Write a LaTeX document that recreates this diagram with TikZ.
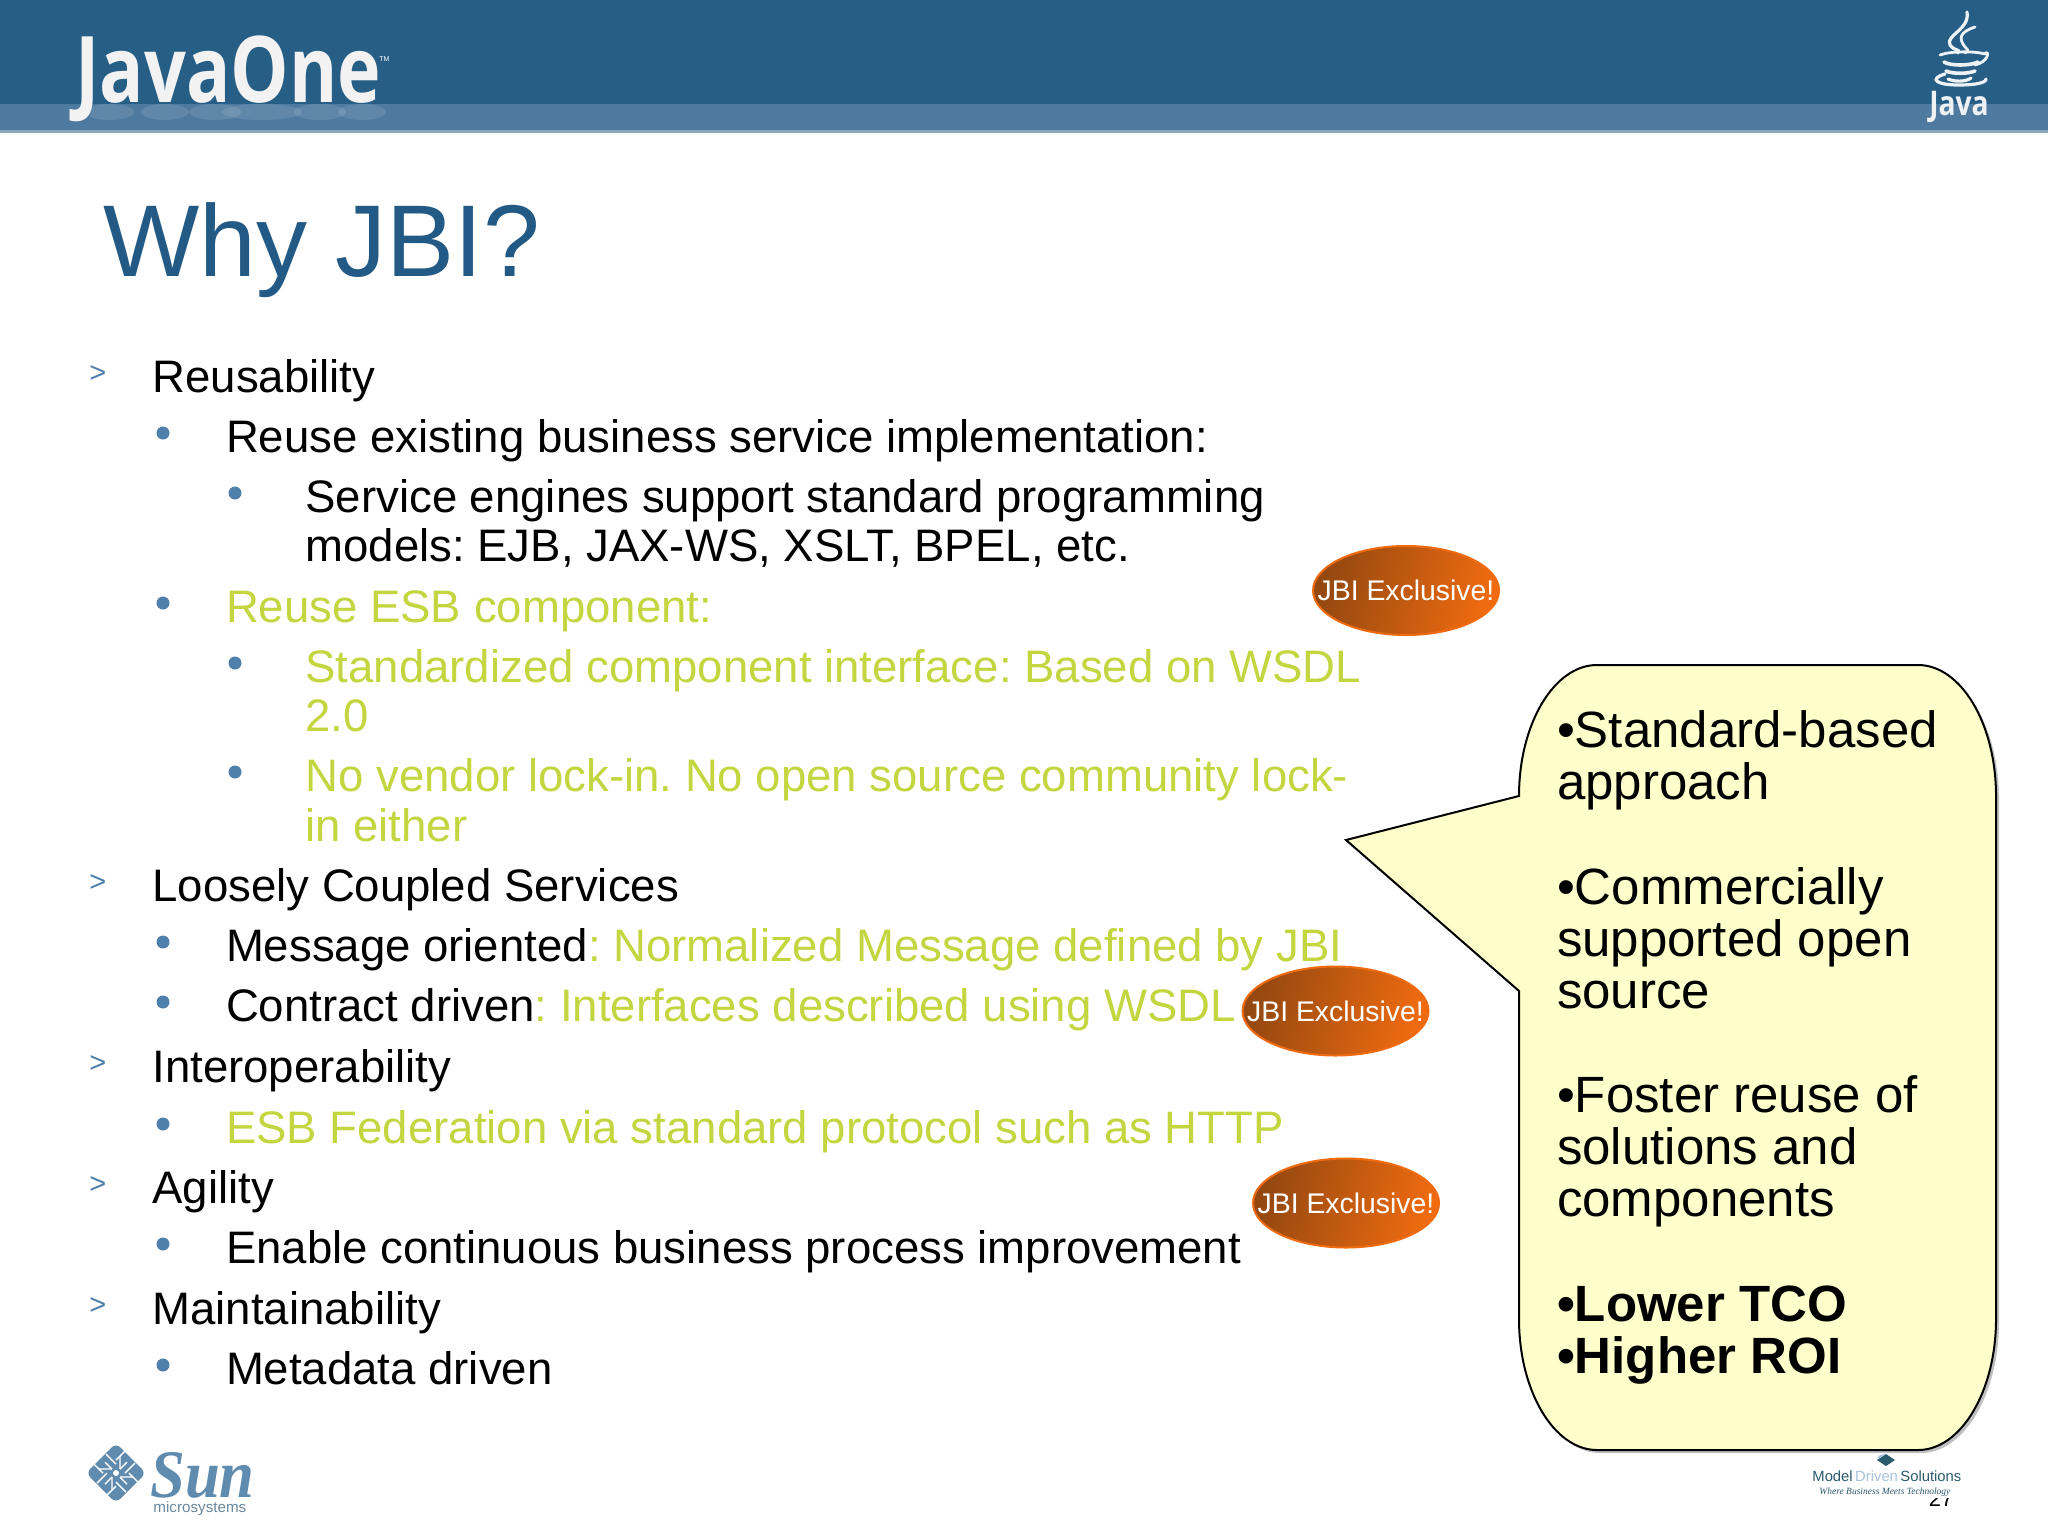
\documentclass[tikz,border=0pt]{standalone}
\usepackage{fontspec}
\setmainfont{Liberation Sans}
\newfontfamily\serifit{Liberation Serif}
\newfontfamily\logofont{Open Sans}
\definecolor{hdark}{HTML}{265E86}
\definecolor{hlight}{HTML}{4E7A9F}
\definecolor{hline}{HTML}{8FA9C0}
\definecolor{titleblue}{HTML}{235A85}
\definecolor{limec}{HTML}{C3D63F}
\definecolor{markc}{HTML}{4F7FAB}
\definecolor{calloutfill}{HTML}{FFFFCC}
\definecolor{sunblue}{HTML}{5F8BAE}
\definecolor{mdteal}{HTML}{2B5A6C}
\definecolor{mdlight}{HTML}{A9C2DC}
\definecolor{badgeL}{HTML}{944810}
\definecolor{badgeR}{HTML}{F06B10}
\usetikzlibrary{shapes.geometric}
\tikzset{
  x=0.5pt,y=-0.5pt,
  txt/.style={anchor=base west,inner sep=0pt,outer sep=0pt,font=\frenchspacing\fontsize{22.77}{27}\selectfont},
  lime text/.style={txt,text=limec},
  gt/.style={anchor=base west,inner sep=0pt,text=markc,font=\fontsize{14.5}{16}\selectfont},
  badge/.style={ellipse,draw=badgeR,line width=1pt,minimum width=93pt,minimum height=44.5pt,inner sep=0pt,
    left color=badgeL,right color=badgeR,shading angle=75,text=white,font=\fontsize{14.2}{17}\selectfont},
  call/.style={anchor=base west,inner sep=0pt,outer sep=0pt,font=\fontsize{25.5}{30}\selectfont},
  callb/.style={call,font=\fontsize{25.5}{30}\bfseries\selectfont},
  steam/.style={draw=white!92!hdark,line cap=round,fill=none},
}
\newcommand{\badgetext}{\raisebox{-0.6pt}{\makebox[0pt][c]{JBI Exclusive!}}}
\begin{document}
\begin{tikzpicture}
\useasboundingbox (0,0) rectangle (2048,1536);
\fill[white] (0,0) rectangle (2048,1536);
% header
\fill[hdark] (0,0) rectangle (2048,104);
\fill[hlight] (0,104) rectangle (2048,131);
\fill[hline] (0,130) rectangle (2048,132.5);
% logo reflection
\begin{scope}[white,opacity=.1]
 \foreach \cx/\w in {110/24,165/24,215/26,262/40,320/26,362/24}{
   \fill (\cx,112) ellipse[x radius=\w,y radius=8];
 }
\end{scope}
\node[inner sep=0pt,anchor=base west,text=white!90!gray] (javaone) at (75,103)
  {\scalebox{0.80}[1]{\logofont\fontsize{46}{50}\bfseries\selectfont JavaOne}};
\node[inner sep=0pt,anchor=base west,text=white] (jtm) at (379,62) {\fontsize{3.5}{4}\selectfont TM};
% java cup
\begin{scope}[steam]
 \draw[line width=1.6pt] (1967,12) .. controls (1970,30) and (1945,35) .. (1950,45) .. controls (1955,52) and (1960,48) .. (1958,53);
 \draw[line width=1.4pt] (1975,27) .. controls (1960,32) and (1958,38) .. (1965,47) .. controls (1970,52) and (1967,50) .. (1965,53);
 \draw[line width=1.4pt] (1940,55) .. controls (1950,51) and (1975,51) .. (1985,54);
 \draw[line width=1.4pt] (1985,53) .. controls (1990,51) and (1988,62) .. (1975,65);
 \draw[line width=1.8pt] (1944,62) .. controls (1950,66) and (1970,66) .. (1978,62);
 \draw[line width=1.8pt] (1946,71) .. controls (1952,74) and (1968,74) .. (1975,71);
 \draw[line width=1.6pt] (1948,79) .. controls (1954,82) and (1966,82) .. (1971,78);
 \draw[line width=1.6pt] (1945,74) .. controls (1928,79) and (1937,85) .. (1958,85) .. controls (1975,85) and (1986,83) .. (1986,79);
\end{scope}
\node[inner sep=0pt,anchor=base,text=white!92!hdark] (javaword) at (1959,115)
  {\scalebox{0.83}[1]{\logofont\fontsize{17}{19}\bfseries\selectfont Java}};
% title
\node[anchor=base west,inner sep=0pt,text=titleblue,font=\fontsize{51}{56}\selectfont] (title) at (103,276) {Why JBI?};
% body
\foreach \y in {392,901,1082,1203,1324}{ \node[gt] at (89,\y-10) {>}; }
\foreach \y in {452,622,961,1021,1143,1263,1384}{ \fill[markc] (163,\y-19) circle[radius=6.5]; }
\foreach \y in {512,682,791}{ \fill[markc] (235,\y-19) circle[radius=6.5]; }
\node[txt] (a1) at (152.5,392) {Reusability};
\node[txt] (a2) at (226,452) {Reuse existing business service implementation:};
\node[txt] (a3) at (305.5,512) {Service engines support standard programming};
\node[txt] (a4) at (305.5,561) {models: EJB, JAX-WS, XSLT, BPEL, etc.};
\node[lime text] (a5) at (226,622) {Reuse ESB component:};
\node[lime text] (a6) at (305.5,682) {Standardized component interface: Based on WSDL};
\node[lime text] (a7) at (305.5,731) {2.0};
\node[lime text] (a8) at (305.5,791) {No vendor lock-in. No open source community lock-};
\node[lime text] (a9) at (305.5,841) {in either};
\node[txt] (b1) at (152.5,901) {Loosely Coupled Services};
\node[txt] (b2) at (226,961) {Message oriented\textcolor{limec}{: Normalized Message defined by JBI}};
\node[txt] (b3) at (226,1021) {Contract driven\textcolor{limec}{: Interfaces described using WSDL}};
\node[txt] (c1) at (152.5,1082) {Interoperability};
\node[lime text] (c2) at (226,1143) {ESB Federation via standard protocol such as HTTP};
\node[txt] (d1) at (152.5,1203) {Agility};
\node[txt] (d2) at (226,1263) {Enable continuous business process improvement};
\node[txt] (e1) at (152.5,1324) {Maintainability};
\node[txt] (e2) at (226,1384) {Metadata driven};
% badges
\node[badge] (x1) at (1406,590.5) {\badgetext};
\node[badge] (x2) at (1335.5,1011) {\badgetext};
\node[badge] (x3) at (1346,1203) {\badgetext};
% page number behind logo
\begin{scope}
 \clip (1900,1498) rectangle (1980,1510);
 \node[anchor=base,inner sep=0pt,font=\fontsize{11}{12}\selectfont] (pg) at (1941,1506) {27};
\end{scope}
% callout
\def\callpath{(1597,665) -- (1918,665) .. controls (1961,665) and (1996,724) .. (1996,796) -- (1996,1319)
 .. controls (1996,1391) and (1961,1450) .. (1918,1450) -- (1597,1450)
 .. controls (1554,1450) and (1519,1391) .. (1519,1319) -- (1519,991) -- (1346,840) -- (1519,796)
 .. controls (1519,724) and (1554,665) .. (1597,665) -- cycle}
\begin{scope}[shift={(3,3)}]
 \fill[gray!50] \callpath;
\end{scope}
\draw[fill=calloutfill,line width=1pt,line join=miter] \callpath;
\node[call] at (1557,747.5) {•Standard-based};
\node[call] at (1557,799.5) {approach};
\node[call] at (1557,904.5) {•Commercially};
\node[call] at (1557,956.5) {supported open};
\node[call] at (1557,1008.5) {source};
\node[call] at (1557,1112.5) {•Foster reuse of};
\node[call] at (1557,1164.5) {solutions and};
\node[call] at (1557,1216.5) {components};
\node[callb] at (1557,1321) {•Lower TCO};
\node[callb] at (1557,1373) {•Higher ROI};
% sun logo
\fill[sunblue,rounded corners=3pt] (116,1443) -- (146,1473) -- (116,1503) -- (86,1473) -- cycle;
\begin{scope}[white,line width=.7pt]
 \foreach \a in {0,90,180,270}{
  \begin{scope}[rotate around={\a:(116,1473)}]
   \draw (120,1469) -- (127,1462) (125,1473) -- (135,1463) (120,1477) -- (133,1477);
   \draw (116,1460) -- (126,1450);
  \end{scope}
 }
 \fill[white] (116,1473) circle[radius=3];
\end{scope}
\node[anchor=base west,inner sep=0pt,text=sunblue] (sunw) at (150,1497)
  {\scalebox{0.92}[1]{\serifit\fontsize{34}{36}\bfseries\itshape\selectfont Sun}};
\node[anchor=base west,inner sep=0pt,text=sunblue!70!gray,font=\fontsize{7.6}{9}\selectfont] (micro) at (153,1512) {microsystems};
% model driven logo
\fill[mdteal] (1877,1460) -- (1886,1454) -- (1895,1460) -- (1886,1466) -- cycle;
\fill[mdlight] (1877,1458) -- (1880,1455) -- (1886,1454) -- (1880,1458) -- cycle;
\node[anchor=base west,inner sep=0pt,font=\fontsize{7.4}{9}\selectfont,text=mdteal] (md) at (1812,1481)
  {Model\,\textcolor{mdlight}{Driven}\,Solutions};
\node[anchor=base west,inner sep=0pt,text=mdteal] (mt) at (1819,1494)
  {\serifit\fontsize{4.75}{6}\itshape\selectfont Where Business Meets Technology};
\end{tikzpicture}
\end{document}
